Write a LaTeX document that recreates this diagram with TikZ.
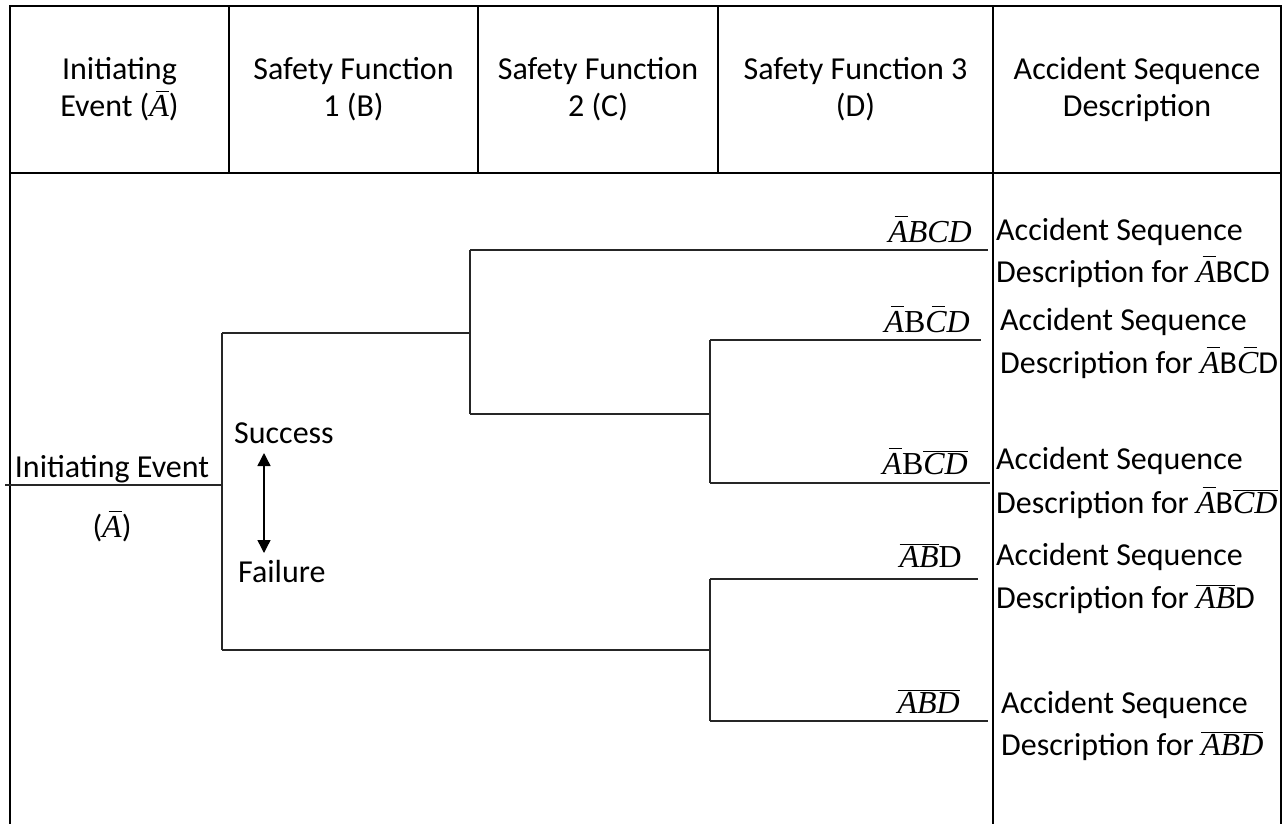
\documentclass[tikz,border=0pt]{standalone}
\usepackage{fontspec}
\setmainfont{Carlito}
\newfontfamily\evfont{Liberation Serif}
\usetikzlibrary{arrows.meta}

% event letters: italic serif, upright serif, and barred forms
\newcommand{\ev}[1]{\mbox{\evfont\itshape #1}}
\newcommand{\evr}[1]{\mbox{\evfont #1}}
% single barred letter: short bar set over the italic capital
\newcommand{\bev}[1]{\mbox{\makebox[0pt][l]{\hspace{0.2em}\rule[0.78em]{0.42em}{0.045em}}\ev{#1}}}
% barred group of letters
\newcommand{\nev}[1]{$\overline{\ev{#1}}$}

\tikzset{
  frame/.style={line width=2.6pt, line cap=rect},
  branch/.style={line width=1.4pt, draw=black!85},
  txt/.style={inner sep=0pt, font=\fontsize{32}{37}\selectfont},
  head/.style={txt, align=center, anchor=base},
  seq/.style={txt, anchor=base east},
  desc/.style={txt, anchor=base west},
}

\begin{document}
\begin{tikzpicture}[x=1pt, y=-1pt]
\useasboundingbox (0,0) rectangle (1283,824);

% table frame
\coordinate (tl) at (10,6);
\coordinate (tr) at (1281,6);
\coordinate (bl) at (10,824);
\coordinate (br) at (1281,824);
\coordinate (hl) at (10,173);
\coordinate (hr) at (1281,173);
\draw[frame] (bl) -- (tl) -- (tr) -- (br);
\draw[frame] (hl) -- (hr);
\foreach \cx/\nm in {229/c1, 478/c2, 718/c3} {
  \coordinate (\nm t) at (\cx,6);
  \coordinate (\nm b) at (\cx,173);
  \draw[frame] (\nm t) -- (\nm b);
}
\coordinate (c4t) at (993,6);
\coordinate (c4b) at (993,824);
\draw[frame] (c4t) -- (c4b);

% column headings
\node[head] (h1a) at (119.5,80) {Initiating};
\node[head] (h1b) at (119.5,117) {Event (\bev{A})};
\node[head] (h2a) at (353.5,80) {Safety Function};
\node[head] (h2b) at (353.5,117) {1 (B)};
\node[head] (h3a) at (598,80) {Safety Function};
\node[head] (h3b) at (598,117) {2 (C)};
\node[head] (h4a) at (855.5,80) {Safety Function 3};
\node[head] (h4b) at (855.5,117) {(D)};
\node[head] (h5a) at (1137,80) {Accident Sequence};
\node[head] (h5b) at (1137,117) {Description};

% event tree
\coordinate (ie0) at (5,485);
\coordinate (ie1) at (222,485);
\coordinate (s1) at (222,333);
\coordinate (f1) at (222,650);
\coordinate (s1e) at (470,333);
\coordinate (btop) at (470,250);
\coordinate (bbot) at (470,414);
\coordinate (cj) at (710,414);
\coordinate (ctop) at (710,340);
\coordinate (cbot) at (710,483);
\coordinate (f1e) at (710,650);
\coordinate (dtop) at (710,579);
\coordinate (dbot) at (710,721);
\coordinate (e1) at (988,250);
\coordinate (e2) at (981,340);
\coordinate (e3) at (990,483);
\coordinate (e4) at (978,579);
\coordinate (e5) at (988,721);

\draw[branch] (ie0) -- (ie1);
\draw[branch] (s1) -- (f1);
\draw[branch] (s1) -- (s1e);
\draw[branch] (btop) -- (bbot);
\draw[branch] (btop) -- (e1);
\draw[branch] (bbot) -- (cj);
\draw[branch] (ctop) -- (cbot);
\draw[branch] (ctop) -- (e2);
\draw[branch] (cbot) -- (e3);
\draw[branch] (f1) -- (f1e);
\draw[branch] (dtop) -- (dbot);
\draw[branch] (dtop) -- (e4);
\draw[branch] (dbot) -- (e5);

% initiating event label
\node[txt, anchor=base] (ie) at (112,477) {Initiating Event};
\node[txt, anchor=base] (iea) at (112,537) {(\bev{A})};

% success / failure key
\node[txt, anchor=base west] (succ) at (234,443) {Success};
\node[txt, anchor=base west] (fail) at (238,582) {Failure};
\coordinate (ka) at (264,453);
\coordinate (kb) at (264,553);
\draw[line width=1.4pt, {Triangle[width=13pt,length=13pt]}-{Triangle[width=13pt,length=13pt]}] (ka) -- (kb);

% sequence labels
\node[seq] (q1) at (972,242) {\bev{A}\ev{BCD}};
\node[seq] (q2) at (970,332) {\bev{A}\evr{B}\bev{C}\ev{D}};
\node[seq] (q3) at (968,474) {\bev{A}\evr{B}\nev{CD}};
\node[seq] (q4) at (962,567) {\nev{AB}\evr{D}};
\node[seq] (q5) at (960,713) {\nev{ABD}};

% sequence descriptions
\node[desc] (d1a) at (996,240) {Accident Sequence};
\node[desc] (d1b) at (996,282) {Description for \bev{A}BCD};
\node[desc] (d2a) at (1000,330) {Accident Sequence};
\node[desc] (d2b) at (1000,373) {Description for \bev{A}B\bev{C}D};
\node[desc] (d3a) at (996,469) {Accident Sequence};
\node[desc] (d3b) at (996,513) {Description for \bev{A}B\nev{CD}};
\node[desc] (d4a) at (996,565) {Accident Sequence};
\node[desc] (d4b) at (996,608) {Description for \nev{AB}D};
\node[desc] (d5a) at (1001,713) {Accident Sequence};
\node[desc] (d5b) at (1001,755) {Description for \nev{ABD}};
\end{tikzpicture}
\end{document}
